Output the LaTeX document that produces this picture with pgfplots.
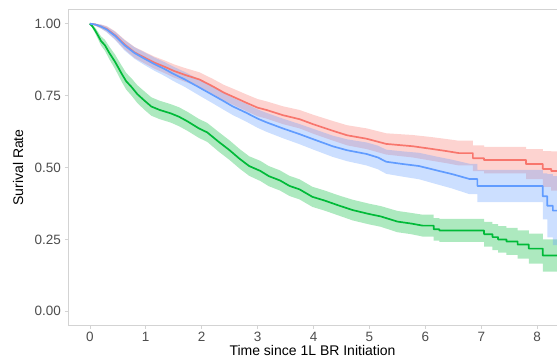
\documentclass[border=0pt]{standalone}
\usepackage{fontspec}
\setmainfont{Liberation Sans}
\usepackage{pgfplots}
\usepackage{pgfplotstable}
\pgfplotsset{compat=1.18}
\usepgfplotslibrary{fillbetween}
\definecolor{kmred}{HTML}{F8766D}
\definecolor{kmgreen}{HTML}{00BA38}
\definecolor{kmblue}{HTML}{619CFF}
\definecolor{tickgray}{HTML}{4D4D4D}
\definecolor{bordergray}{HTML}{D3D3D3}

\pgfplotstableread{
t s lo hi
0 1.000 1.000 1.000
0.05 0.990 0.984 0.996
0.10 0.975 0.965 0.985
0.15 0.958 0.945 0.971
0.20 0.940 0.924 0.956
0.27 0.925 0.906 0.944
0.35 0.898 0.876 0.920
0.45 0.868 0.843 0.893
0.57 0.826 0.798 0.854
0.65 0.800 0.771 0.829
0.75 0.779 0.749 0.809
0.85 0.755 0.724 0.786
0.98 0.732 0.700 0.764
1.10 0.712 0.680 0.744
1.25 0.700 0.668 0.732
1.45 0.688 0.656 0.720
1.60 0.676 0.643 0.709
1.75 0.660 0.627 0.693
1.95 0.636 0.603 0.669
2.10 0.622 0.589 0.655
2.30 0.590 0.556 0.624
2.50 0.560 0.526 0.594
2.68 0.530 0.496 0.564
2.85 0.505 0.471 0.539
3.05 0.488 0.453 0.523
3.20 0.470 0.435 0.505
3.40 0.455 0.420 0.490
3.57 0.436 0.401 0.471
3.75 0.424 0.389 0.459
3.98 0.398 0.363 0.433
4.20 0.385 0.350 0.420
4.45 0.368 0.333 0.403
4.70 0.352 0.316 0.388
5.00 0.338 0.302 0.374
5.20 0.330 0.294 0.366
5.50 0.312 0.275 0.349
5.75 0.305 0.268 0.342
5.95 0.298 0.260 0.336
6.15 0.298 0.260 0.336
6.15 0.285 0.246 0.324
6.25 0.285 0.246 0.324
6.25 0.281 0.241 0.321
7.05 0.281 0.241 0.321
7.05 0.268 0.225 0.311
7.20 0.268 0.225 0.311
7.20 0.258 0.213 0.303
7.30 0.258 0.213 0.303
7.30 0.250 0.204 0.296
7.45 0.250 0.204 0.296
7.45 0.243 0.196 0.290
7.65 0.243 0.196 0.290
7.65 0.232 0.183 0.281
7.85 0.232 0.183 0.281
7.85 0.218 0.166 0.270
8.10 0.218 0.166 0.270
8.10 0.194 0.138 0.250
8.40 0.194 0.138 0.250
}\greendata

\pgfplotstableread{
t s lo hi
0 1.000 1.000 1.000
0.10 0.997 0.993 1.000
0.20 0.990 0.983 0.997
0.30 0.982 0.972 0.992
0.45 0.960 0.946 0.974
0.62 0.928 0.911 0.945
0.80 0.900 0.881 0.919
0.98 0.882 0.862 0.902
1.15 0.865 0.844 0.886
1.34 0.850 0.828 0.872
1.50 0.836 0.813 0.859
1.70 0.822 0.798 0.846
1.96 0.806 0.781 0.831
2.20 0.782 0.756 0.808
2.40 0.760 0.733 0.787
2.55 0.747 0.719 0.775
2.80 0.725 0.696 0.754
3.00 0.708 0.678 0.738
3.16 0.700 0.670 0.730
3.45 0.682 0.651 0.713
3.75 0.668 0.636 0.700
4.00 0.650 0.617 0.683
4.34 0.628 0.594 0.662
4.60 0.612 0.577 0.647
4.95 0.600 0.564 0.636
5.30 0.582 0.545 0.619
5.77 0.574 0.535 0.613
6.10 0.565 0.524 0.606
6.38 0.557 0.515 0.599
6.60 0.550 0.507 0.593
6.85 0.550 0.507 0.593
6.85 0.532 0.487 0.577
7.05 0.532 0.487 0.577
7.05 0.526 0.480 0.572
7.80 0.526 0.480 0.572
7.80 0.512 0.460 0.564
8.10 0.512 0.460 0.564
8.10 0.495 0.433 0.557
8.25 0.495 0.433 0.557
8.25 0.488 0.420 0.556
8.40 0.488 0.420 0.556
}\reddata

\pgfplotstableread{
t s lo hi
0 1.000 1.000 1.000
0.10 0.997 0.993 1.000
0.20 0.990 0.983 0.997
0.30 0.980 0.970 0.990
0.45 0.958 0.944 0.972
0.62 0.925 0.907 0.943
0.80 0.898 0.878 0.918
0.98 0.878 0.856 0.900
1.15 0.860 0.837 0.883
1.34 0.842 0.818 0.866
1.50 0.825 0.800 0.850
1.70 0.806 0.780 0.832
1.96 0.778 0.750 0.806
2.20 0.752 0.723 0.781
2.40 0.730 0.700 0.760
2.55 0.713 0.683 0.743
2.80 0.690 0.659 0.721
3.00 0.670 0.638 0.702
3.16 0.657 0.624 0.690
3.45 0.636 0.602 0.670
3.75 0.616 0.581 0.651
4.00 0.598 0.562 0.634
4.34 0.574 0.537 0.611
4.60 0.560 0.522 0.598
4.95 0.547 0.507 0.587
5.15 0.535 0.494 0.576
5.30 0.520 0.478 0.562
5.60 0.512 0.468 0.556
5.89 0.505 0.459 0.551
6.20 0.490 0.442 0.538
6.48 0.477 0.427 0.527
6.79 0.460 0.407 0.513
6.93 0.460 0.407 0.513
6.93 0.436 0.380 0.492
8.10 0.436 0.380 0.492
8.10 0.400 0.320 0.480
8.18 0.400 0.320 0.480
8.18 0.367 0.257 0.477
8.28 0.367 0.257 0.477
8.28 0.350 0.230 0.470
8.40 0.350 0.230 0.470
}\bluedata

\begin{document}
\begin{tikzpicture}
\begin{axis}[
  scale only axis, width=489bp, height=316.4bp,
  xmin=-0.39, xmax=8.354, ymin=-0.05, ymax=1.05,
  axis x line=box, axis y line=left,
  axis line style={-, draw=bordergray, line width=0.6bp},
  tick pos=left, tick align=outside,
  major tick length=3bp,
  tick style={draw=bordergray, line width=0.6bp},
  xtick={0,1,2,3,4,5,6,7,8},
  ytick={0,0.25,0.5,0.75,1},
  yticklabels={0.00,0.25,0.50,0.75,1.00},
  /pgf/number format/assume math mode=true,
  ticklabel style={font=\fontsize{13.5bp}{15bp}\selectfont, text=tickgray, inner sep=0pt},
  yticklabel style={anchor=east, xshift=-4bp},
  xticklabel style={anchor=north, yshift=-3bp},
  xlabel={Time since 1L BR Initiation},
  ylabel={Surival Rate},
  label style={font=\fontsize{14bp}{16bp}\selectfont, text=black, inner sep=0pt},
  xlabel style={at={(axis description cs:0.5,-0.094)}, anchor=base},
  ylabel style={at={(axis description cs:-0.1022,0.5)}, anchor=center, rotate=0},
  clip=true,
]
% ribbons
\addplot[draw=none, name path=ru, forget plot] table[x=t,y=hi]{\reddata};
\addplot[draw=none, name path=rl, forget plot] table[x=t,y=lo]{\reddata};
\addplot[kmred, fill opacity=0.32, draw=none, forget plot] fill between[of=ru and rl];
\addplot[draw=none, name path=gu, forget plot] table[x=t,y=hi]{\greendata};
\addplot[draw=none, name path=gl, forget plot] table[x=t,y=lo]{\greendata};
\addplot[kmgreen, fill opacity=0.32, draw=none, forget plot] fill between[of=gu and gl];
\addplot[draw=none, name path=bu, forget plot] table[x=t,y=hi]{\bluedata};
\addplot[draw=none, name path=bl, forget plot] table[x=t,y=lo]{\bluedata};
\addplot[kmblue, fill opacity=0.32, draw=none, forget plot] fill between[of=bu and bl];
% curves
\addplot[kmred, line width=1.7bp, no marks, line join=round] table[x=t,y=s]{\reddata};
\addplot[kmgreen, line width=1.7bp, no marks, line join=round] table[x=t,y=s]{\greendata};
\addplot[kmblue, line width=1.7bp, no marks, line join=round] table[x=t,y=s]{\bluedata};
\end{axis}
\pgfresetboundingbox
\useasboundingbox (-68bp,-31.3bp) rectangle (489bp,325.7bp);
\end{tikzpicture}
\end{document}
